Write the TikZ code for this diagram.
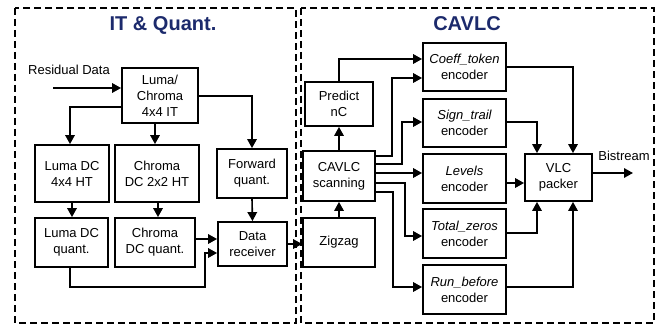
\documentclass[tikz,border=0pt]{standalone}
\usepackage{fontspec}
\setmainfont{Liberation Sans}
\usetikzlibrary{arrows.meta}
\definecolor{titleblue}{RGB}{28,42,108}
\begin{document}
\begin{tikzpicture}[x=1pt,y=-1pt,
  blk/.style={draw,line width=1.8pt,align=center,inner sep=0pt,
    font=\fontsize{13}{16}\selectfont},
  arr/.style={line width=1.6pt,-{Triangle[length=9pt,width=9.5pt]}},
  frame/.style={line width=1.8pt,dash pattern=on 7pt off 4pt},
  ttl/.style={font=\fontsize{20}{22}\selectfont\bfseries,text=titleblue},
  lbl/.style={font=\fontsize{13}{16}\selectfont,inner sep=0pt}]
\useasboundingbox (0,0) rectangle (664,326);

% dashed stage frames and their titles
\draw[frame] (15,8) rectangle (296,323);
\draw[frame] (301,8) rectangle (654,323);
\node[ttl] (t1) at (163,25) {IT \& Quant.};
\node[ttl] (t2) at (467,24) {CAVLC};

% transform and quantisation blocks
\node[blk,minimum width=76pt,minimum height=55pt] (it) at (160,95.5) {Luma/\\Chroma\\4x4 IT};
\node[blk,minimum width=74pt,minimum height=57pt] (lhht) at (72,173.5) {Luma DC\\4x4 HT};
\node[blk,minimum width=84pt,minimum height=57pt] (chht) at (157,173.5) {Chroma\\DC 2x2 HT};
\node[blk,minimum width=70pt,minimum height=49pt] (fq) at (252,173.5) {Forward\\quant.};
\node[blk,minimum width=73pt,minimum height=49pt] (ldq) at (71.5,242.5) {Luma DC\\quant.};
\node[blk,minimum width=80pt,minimum height=49pt] (cdq) at (155,242.5) {Chroma\\DC quant.};
\node[blk,minimum width=69pt,minimum height=44pt] (dr) at (252.5,244) {Data\\receiver};

% CAVLC blocks
\node[blk,minimum width=72pt,minimum height=49pt] (zz) at (339,242.5) {Zigzag};
\node[blk,minimum width=72pt,minimum height=50pt] (cs) at (339,176) {CAVLC\\scanning};
\node[blk,minimum width=68pt,minimum height=44pt] (pn) at (339,104) {Predict\\nC};
\node[blk,minimum width=83pt,minimum height=48pt] (ct) at (464.5,67) {\itshape Coeff\_token\\encoder};
\node[blk,minimum width=83pt,minimum height=48pt] (st) at (464.5,123) {\itshape Sign\_trail\\encoder};
\node[blk,minimum width=83pt,minimum height=49pt] (lv) at (464.5,178.5) {\itshape Levels\\encoder};
\node[blk,minimum width=83pt,minimum height=49pt] (tz) at (464.5,233.5) {\itshape Total\_zeros\\encoder};
\node[blk,minimum width=83pt,minimum height=49pt] (rb) at (464.5,289.5) {\itshape Run\_before\\encoder};
\node[blk,minimum width=67pt,minimum height=47pt] (vlc) at (558.5,177.5) {VLC\\packer};

% input and output labels
\node[lbl] (res) at (69,70) {Residual Data};
\coordinate (rin) at (53,88);
\node[lbl] (bsl) at (624,156) {Bistream};
\coordinate (bout) at (633,173);

% connectors, transform stage
\draw[arr] (rin) -- (rin -| it.west);
\draw[arr] (it.west |- 0,107) -| (70,0 |- lhht.north);
\draw[arr] (155,0 |- it.south) -- (155,0 |- chht.north);
\draw[arr] (it.east |- 0,96) -| (fq.north);
\draw[arr] (72,0 |- lhht.south) -- (72,0 |- ldq.north);
\draw[arr] (158,0 |- chht.south) -- (158,0 |- cdq.north);
\draw[arr] (fq.south) -- (dr.north);
\draw[arr] (cdq.east |- 0,239) -- (dr.west |- 0,239);
\draw[arr] (70,0 |- ldq.south) -- (70,287) -- (205,287) -- (205,253) -- (dr.west |- 0,253);
\draw[arr] (dr.east |- 0,244) -- (zz.west |- 0,244);

% connectors, CAVLC stage
\draw[arr] (zz.north) -- (cs.south);
\draw[arr] (cs.north) -- (pn.south);
\draw[arr] (pn.north) |- (ct.west |- 0,59);
\draw[arr] (cs.east |- 0,156) -- (392,156) |- (ct.west |- 0,78);
\draw[arr] (cs.east |- 0,164) -- (402,164) |- (st.west |- 0,122);
\draw[arr] (cs.east |- 0,173) -- (lv.west |- 0,173);
\draw[arr] (cs.east |- 0,183) -- (405,183) |- (tz.west |- 0,236);
\draw[arr] (cs.east |- 0,192) -- (393,192) |- (rb.west |- 0,287);
\draw[arr] (ct.east |- 0,67) -| (573,0 |- vlc.north);
\draw[arr] (st.east |- 0,122) -| (537,0 |- vlc.north);
\draw[arr] (lv.east |- 0,183) -- (vlc.west |- 0,183);
\draw[arr] (tz.east |- 0,233) -| (537,0 |- vlc.south);
\draw[arr] (rb.east |- 0,287) -| (573,0 |- vlc.south);
\draw[arr] (vlc.east |- 0,173) -- (bout);
\end{tikzpicture}
\end{document}
